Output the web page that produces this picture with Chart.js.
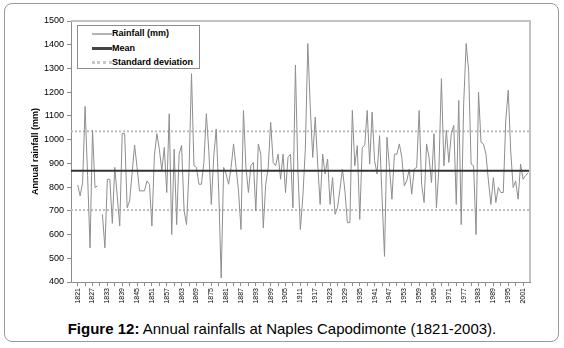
<!DOCTYPE html>
<html>
<head>
<meta charset="utf-8">
<script src="https://cdn.jsdelivr.net/npm/chart.js@4.4.1/dist/chart.umd.min.js"></script>
<style>
  body { margin: 0; background: #fff; font-family: "Liberation Sans", Arial, sans-serif; }
  #frame { position: absolute; left: 4px; top: 3px; width: 553px; height: 337px; border: 1px solid #9a9a9a; border-radius: 8px; }
  #wrap { position: absolute; left: 0; top: 0; width: 564px; height: 315px; }
  #legend { position: absolute; border: 1px solid #8c8c8c; background: #fff; width: 121px; height: 42px; }
  .item { height: 14.5px; line-height: 14.5px; font-size: 9px; font-weight: bold; color: #000; white-space: nowrap; }
  .swatch { display: inline-block; width: 20px; margin-left: 14px; vertical-align: middle; }
  #caption { position: absolute; left: 0; width: 564px; top: 320px; line-height: 17px; text-align: center; font-size: 15px; color: #000; }
</style>
</head>
<body>
<div id="frame"></div>
<div id="wrap"><canvas id="rainChart" width="564" height="315"></canvas></div>
<div id="legend"></div>
<div id="caption"><b>Figure 12:</b> Annual rainfalls at Naples Capodimonte (1821-2003).</div>
<script>
// annual rainfall (mm), 1821 .. 2003 (1830 missing)
const firstYear = 1821;
const rainfall = [
  809, 763, 820, 1140, 850, 544, 1040, 798, 805, null,
  685, 544, 833, 833, 647, 883, 760, 636, 1027, 1025,
  713, 742, 860, 977, 883, 784, 784, 784, 826, 812,
  636, 932, 1025, 960, 869, 967, 777, 1109, 600, 960,
  642, 939, 976, 700, 642, 869, 1278, 890, 883, 812,
  812, 904, 1109, 953, 727, 932, 1045, 784, 417, 883,
  855, 812, 883, 982, 883, 784, 621, 1123, 883, 777,
  890, 904, 699, 982, 939, 628, 812, 883, 1073, 904,
  890, 939, 833, 939, 777, 925, 939, 713, 1314, 869,
  621, 760, 960, 1405, 1137, 925, 1095, 897, 727, 939,
  855, 918, 727, 840, 685, 713, 791, 876, 784, 650,
  650, 1123, 890, 975, 664, 967, 975, 1123, 897, 1116,
  911, 855, 1017, 756, 508, 1010, 883, 749, 939, 939,
  982, 925, 805, 826, 876, 770, 876, 883, 1123, 812,
  735, 982, 925, 819, 1025, 713, 883, 1257, 890, 1039,
  904, 1025, 1060, 727, 1165, 642, 1150, 1405, 1292, 897,
  890, 600, 1201, 989, 982, 939, 826, 727, 840, 735,
  798, 777, 777, 1080, 1208, 953, 798, 826, 749, 897,
  833, 848, 860
];
const years = Array.from({ length: rainfall.length }, (_, i) => firstYear + i);

const meanValue = 869;
const stdUpper = 1035;
const stdLower = 703;

const tickLabels = [1821, 1827, 1833, 1839, 1845, 1851, 1857, 1863, 1869, 1875, 1881,
  1887, 1893, 1899, 1905, 1911, 1917, 1923, 1929, 1935, 1941, 1947, 1953, 1959,
  1965, 1971, 1977, 1983, 1989, 1995, 2001];

const xMin = 1818.3, xMax = 2003.8;
const FONT = "'Liberation Sans', Arial, sans-serif";

const plotFrame = {
  id: "plotFrame",
  afterDraw(chart) {
    const { ctx, chartArea: a } = chart;
    ctx.save();
    ctx.strokeStyle = "#c2c2c2";
    ctx.lineWidth = 2;
    ctx.beginPath();
    ctx.moveTo(a.left, a.top);
    ctx.lineTo(a.right, a.top);
    ctx.lineTo(a.right, a.bottom);
    ctx.stroke();
    ctx.restore();
  }
};

const ctx = document.getElementById("rainChart").getContext("2d");
const chart = new Chart(ctx, {
  type: "line",
  data: {
    datasets: [
      {
        label: "Rainfall (mm)",
        data: years.map((y, i) => ({ x: y, y: rainfall[i] })),
        borderColor: "#8e8e8e",
        borderWidth: 1,
        legendColor: "#b4b4b4",
        legendWidth: 2,
        order: 2
      },
      {
        label: "Mean",
        data: [{ x: xMin, y: meanValue }, { x: xMax, y: meanValue }],
        borderColor: "#333",
        borderWidth: 2,
        legendColor: "#444",
        legendWidth: 3,
        order: 1
      },
      {
        label: "Standard deviation",
        data: [{ x: xMin, y: stdUpper }, { x: xMax, y: stdUpper }],
        borderColor: "#bdbdbd",
        borderWidth: 2,
        borderDash: [2, 2],
        legendColor: "#c8c8c8",
        legendWidth: 3,
        order: 3
      },
      {
        label: "Standard deviation",
        data: [{ x: xMin, y: stdLower }, { x: xMax, y: stdLower }],
        borderColor: "#bdbdbd",
        borderWidth: 2,
        borderDash: [2, 2],
        order: 3
      }
    ]
  },
  options: {
    responsive: false,
    animation: false,
    spanGaps: false,
    elements: { point: { radius: 0 }, line: { tension: 0 } },
    layout: { padding: { left: 26, right: 34, top: 21, bottom: 0 } },
    plugins: { legend: { display: false }, tooltip: { enabled: false } },
    scales: {
      x: {
        type: "linear",
        min: xMin,
        max: xMax,
        afterBuildTicks(scale) {
          scale.ticks = tickLabels.flatMap(y => [{ value: y }, { value: y + 3 }])
            .filter(t => t.value <= xMax);
        },
        afterFit(scale) { scale.height = 33; },
        ticks: {
          autoSkip: false,
          minRotation: 90,
          maxRotation: 90,
          padding: 2,
          color: "#000",
          font: { family: FONT, size: 7 },
          callback: v => tickLabels.includes(v) ? String(v) : ""
        },
        grid: { drawOnChartArea: false, tickLength: 4, color: "#8c8c8c" },
        border: { color: "#8c8c8c" }
      },
      y: {
        min: 400,
        max: 1500,
        afterFit(scale) { scale.width = 45; },
        ticks: {
          stepSize: 100,
          padding: 3,
          color: "#000",
          font: { family: FONT, size: 9 },
          callback: v => String(v)
        },
        grid: { drawOnChartArea: false, tickLength: 4, color: "#8c8c8c" },
        border: { color: "#8c8c8c" },
        title: {
          display: true,
          text: "Annual rainfall (mm)",
          color: "#000",
          padding: { top: 4, bottom: 0 },
          font: { family: FONT, size: 9, weight: "bold" }
        }
      }
    }
  },
  plugins: [plotFrame]
});

// legend box inside the plot area, built from the datasets
const legendBox = document.getElementById("legend");
legendBox.style.left = (chart.chartArea.left + 6) + "px";
legendBox.style.top = (chart.chartArea.top + 4) + "px";
const seen = new Set();
chart.data.datasets.forEach(ds => {
  if (seen.has(ds.label)) return;
  seen.add(ds.label);
  const row = document.createElement("div");
  row.className = "item";
  const style = ds.borderDash ? "dotted" : "solid";
  row.innerHTML = `<span class="swatch" style="border-top:${ds.legendWidth}px ${style} ${ds.legendColor}"></span>${ds.label}`;
  legendBox.appendChild(row);
});
</script>
</body>
</html>
